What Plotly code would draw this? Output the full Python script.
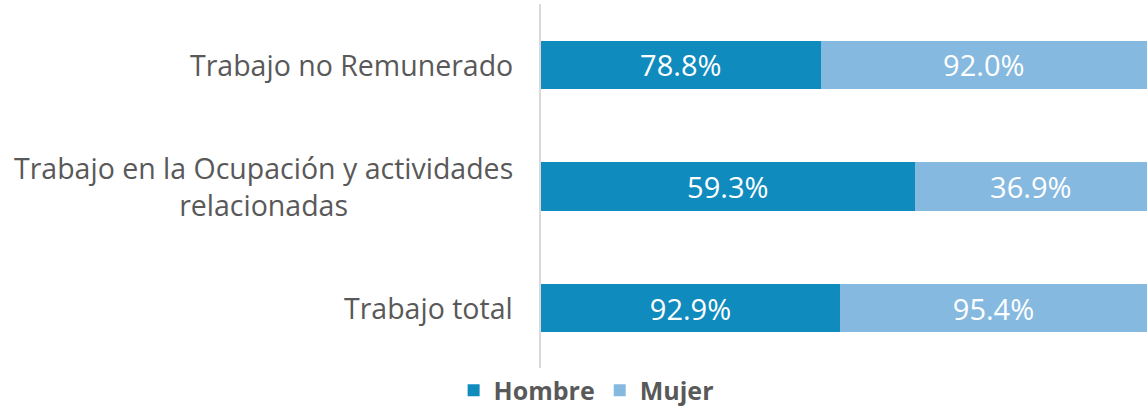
import plotly.graph_objects as go

# Share of people doing each kind of work, by sex (%)
categorias = ["Trabajo total", "Trabajo en la Ocupación y actividades<br>relacionadas", "Trabajo no Remunerado"]
hombre = [92.9, 59.3, 78.8]
mujer = [95.4, 36.9, 92.0]

color_hombre = "#0F8BBE"
color_mujer = "#86B9E0"
gris = "#595959"
fuente = "Open Sans"

fig = go.Figure()
for nombre, valores, color in [("Hombre", hombre, color_hombre), ("Mujer", mujer, color_mujer)]:
    fig.add_trace(go.Bar(
        y=categorias, x=valores, name=nombre, orientation="h",
        marker=dict(color=color, line=dict(width=0)),
        text=[f"{v:.1f}%" for v in valores], textposition="inside",
        insidetextanchor="middle",
        textfont=dict(family=fuente, size=29, color="white"),
        hoverinfo="skip",
    ))

# Category labels drawn as annotations so wrapped lines stay centred
for cat in categorias:
    fig.add_annotation(
        x=0, xref="paper", y=cat, yref="y", text=cat, showarrow=False,
        xanchor="right", xshift=-26, align="center",
        font=dict(family=fuente, size=28.5, color=gris),
    )

fig.update_layout(
    width=1147, height=406,
    margin=dict(l=541, r=0, t=4, b=37, autoexpand=False),
    barmode="stack", barnorm="percent", bargap=0.605,
    plot_bgcolor="white", paper_bgcolor="white",
    showlegend=True,
    legend=dict(
        orientation="h", xref="container", x=0.511, xanchor="center",
        yref="container", y=0.038, yanchor="middle",
        font=dict(family=fuente, size=25, color=gris, weight="bold"),
        itemsizing="constant", traceorder="normal",
    ),
    font=dict(family=fuente, color=gris),
)
fig.update_xaxes(range=[0, 100], showgrid=False, showticklabels=False, zeroline=False,
                 showline=False, fixedrange=True)
fig.update_yaxes(showgrid=False, showticklabels=False, ticks="", zeroline=False,
                 showline=True, linecolor="#D9D9D9", linewidth=2, fixedrange=True)

fig.write_html("out.html")
